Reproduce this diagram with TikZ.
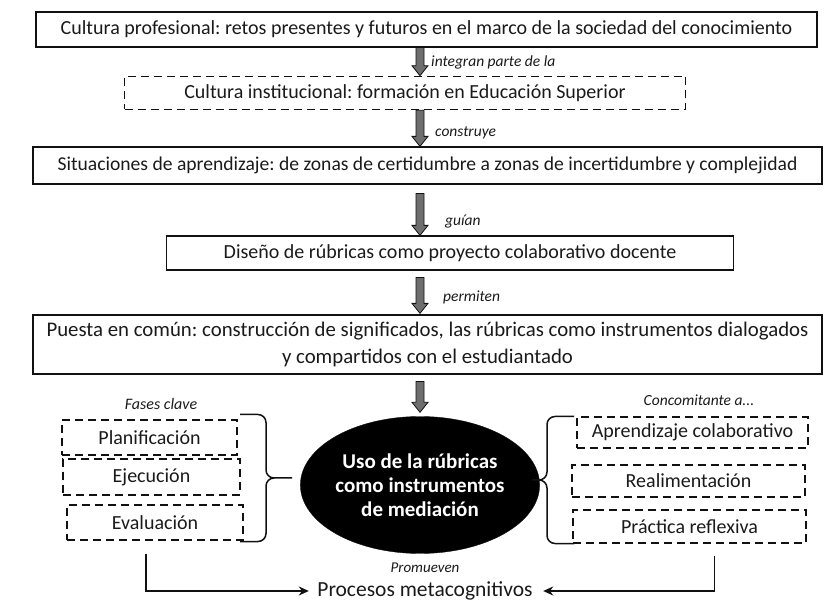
\documentclass[tikz,border=0pt]{standalone}
\usepackage{fontspec}
\setmainfont{Carlito}
\usepackage{xcolor}
\definecolor{textcolor}{HTML}{1a1a1a}
\definecolor{linecolor}{HTML}{111111}
\definecolor{arrowfill}{HTML}{6e6e6e}
\usepackage{tikz}
\usetikzlibrary{positioning,arrows.meta,shapes.geometric,calc}
\tikzset{
    box/.style={
        rectangle,
        draw=linecolor,
        text=textcolor,
        line width=1.2pt,
        inner sep=0pt,
        align=center,
        font=\fontsize{20}{27}\selectfont,
    },
    dashbox/.style={
        box,
        line width=1.6pt,
        dash pattern=on 8pt off 5pt,
    },
    hub/.style={
        ellipse,
        fill=black,
        draw=linecolor,
        text=white,
        inner sep=0pt,
        align=center,
        font=\bfseries\fontsize{21}{24}\selectfont,
    },
    tag/.style={
        text=textcolor,
        font=\itshape\fontsize{15.5}{17}\selectfont,
        inner sep=0pt,
    },
    bigarrow/.style={
        draw=linecolor,
        fill=arrowfill,
        line width=0.8pt,
        to path={
            let \p1=(\tikztostart), \p2=(\tikztotarget) in
            (\x1-4pt,\y1) -- (\x1-4pt,\y2+10pt) -- (\x1-8pt,\y2+10pt) -- (\x2,\y2)
            -- (\x1+8pt,\y2+10pt) -- (\x1+4pt,\y2+10pt) -- (\x1+4pt,\y1) -- cycle
        },
    },
    bracket/.style={
        draw=linecolor,
        line width=1.5pt,
        rounded corners=8pt,
    },
    link/.style={
        -{Stealth[length=10pt,width=9pt]},
        draw=linecolor,
        line width=1.5pt,
    },
}

\begin{document}
\frenchspacing
\begin{tikzpicture}[x=1pt,y=-1pt]
    \useasboundingbox (0,0) rectangle (825,601);

    \node[box, minimum width=781, minimum height=35] (cultprof) at (426.5,29.5)
        {Cultura profesional: retos presentes y futuros en el marco de la sociedad del conocimiento};
    \node[dashbox, minimum width=561, minimum height=33] (cultinst) at (405,93)
        {Cultura institucional: formación en Educación Superior};
    \node[box, minimum width=789, minimum height=37, font=\fontsize{19.6}{27}\selectfont] (situac) at (427.5,165.5)
        {Situaciones de aprendizaje: de zonas de certidumbre a zonas de incertidumbre y complejidad};
    \node[box, minimum width=567, minimum height=34] (diseno) at (450,253)
        {Diseño de rúbricas como proyecto colaborativo docente};
    \node[box, minimum width=789, minimum height=59, font=\fontsize{20.8}{27}\selectfont] (puesta) at (427.5,344.5)
        {Puesta en común: construcción de significados, las rúbricas como instrumentos dialogados\\
         y compartidos con el estudiantado};
    \node[hub, minimum width=188, minimum height=137] (uso) at (420,485)
        {Uso de la rúbricas\\como instrumentos\\de mediación};

    \node[tag, anchor=west] (lintegran) at (431,62) {integran parte de la};
    \node[tag, anchor=west] (lconstruye) at (435,133) {construye};
    \node[tag, anchor=west] (lguian) at (445,222) {guían};
    \node[tag, anchor=west] (lpermiten) at (443,297) {permiten};

    \draw[bigarrow] (uso.north |- cultprof.south) to (uso.north |- cultinst.north);
    \draw[bigarrow] (uso.north |- cultinst.south) to (uso.north |- situac.north);
    \draw[bigarrow] ([yshift=-9pt]uso.north |- situac.south) to (uso.north |- diseno.north);
    \draw[bigarrow] ([yshift=-7pt]uso.north |- diseno.south) to ([yshift=1pt]uso.north |- puesta.north);
    \draw[bigarrow] ([yshift=-7pt]uso.north |- puesta.south) to ([yshift=4pt]uso.north);

    % fases
    \node[tag, font=\itshape\fontsize{16}{18}\selectfont] (fases) at (161,404) {Fases clave};
    \node[dashbox, minimum width=175, minimum height=35] (planif) at (149.5,437.5) {Planificación};
    \node[dashbox, minimum width=177, minimum height=36] (ejecuc) at (151.5,477) {Ejecución};
    \node[dashbox, minimum width=176, minimum height=35] (evalua) at (155,522.5) {Evaluación};

    \draw[bracket] (240,414.5) -- ++(26,0) -- ++(0,63.5) -- ++(26,0)
                   (240,541.5) -- ++(26,0) -- ++(0,-63.5) -- ++(26,0);

    % concomitante
    \node[tag] (concom) at (699,400) {Concomitante a...};
    \node[dashbox, minimum width=231, minimum height=31] (aprend) at (692.5,432.5) {Aprendizaje colaborativo};
    \node[dashbox, minimum width=233, minimum height=32] (realim) at (688.5,481) {Realimentación};
    \node[dashbox, minimum width=233, minimum height=33] (practica) at (689.5,526.5) {Práctica reflexiva};

    \draw[bracket] (574,416.5) -- ++(-27,0) -- ++(0,63.5) -- ++(-15,0)
                   (574,543.5) -- ++(-27,0) -- ++(0,-63.5) -- ++(-15,0);

    % procesos
    \node[tag, font=\itshape\fontsize{15}{17}\selectfont] (promueven) at (425,568) {Promueven};
    \node[box, draw=none, font=\fontsize{21.5}{24}\selectfont] (procesos) at (425,591) {Procesos metacognitivos};

    \draw[link] ([xshift=-9pt,yshift=-13pt]evalua.south) |- ([xshift=-8pt]procesos.west);
    \draw[link] ([xshift=25pt,yshift=-12pt]practica.south) |- ([xshift=10pt]procesos.east);
\end{tikzpicture}
\end{document}
